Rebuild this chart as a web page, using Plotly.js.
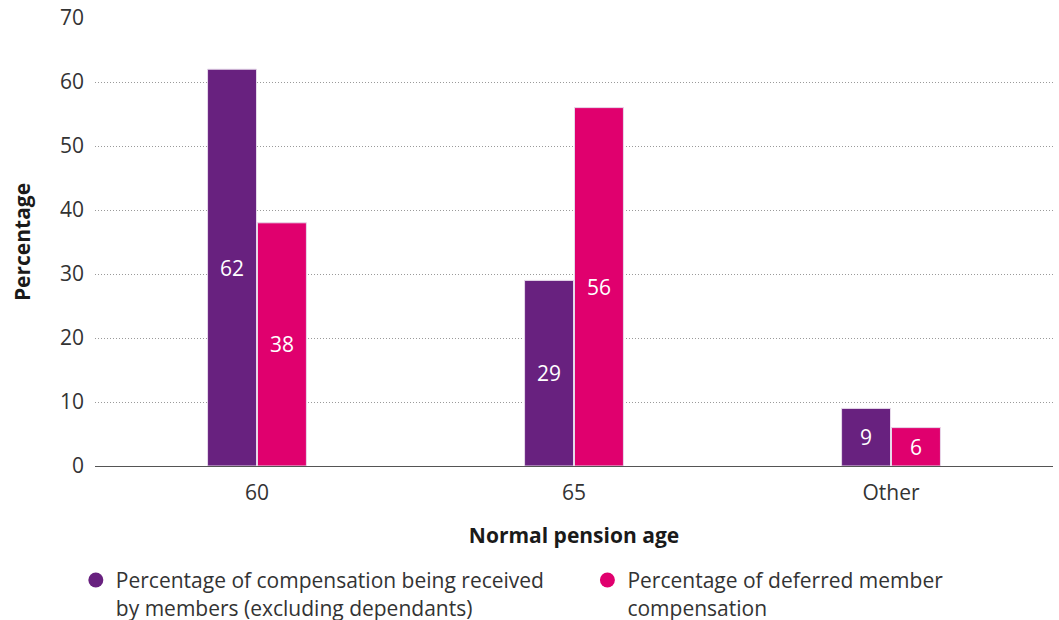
<!DOCTYPE html>
<html>
<head>
<meta charset="utf-8">
<script src="https://cdn.plot.ly/plotly-3.0.1.min.js"></script>
<style>html,body{margin:0;padding:0;background:#fff;}#chart{width:1059px;height:620px;}</style>
</head>
<body>
<div id="chart"></div>
<script>
// Normal pension age categories
const categories = ['60', '65', 'Other'];
// Share of compensation being received by members (excluding dependants)
const receivedValues = [62, 29, 9];
// Share of deferred member compensation
const deferredValues = [38, 56, 6];
const seriesNames = [
  'Percentage of compensation being received<br>by members (excluding dependants)',
  'Percentage of deferred member<br>compensation'
];
const yTicks = [0, 10, 20, 30, 40, 50, 60, 70];

const FONT = '"Open Sans", "Noto Sans", sans-serif';
const PURPLE = '#68217f';
const PINK = '#e0006e';
const TEXT_SIZE = 21;

function barTrace(values, color) {
  return {
    type: 'bar',
    x: categories,
    y: values,
    text: values.map(String),
    textposition: 'inside',
    insidetextanchor: 'middle',
    textangle: 0,
    textfont: {family: FONT, size: TEXT_SIZE, color: '#ffffff'},
    marker: {color: color, line: {color: '#e6d9ea', width: 1}},
    showlegend: false,
    hoverinfo: 'skip'
  };
}

// Legend-only entries so the keys are drawn as round dots
function legendKey(name, color, legendId) {
  return {
    type: 'scatter',
    mode: 'markers',
    name: name,
    x: [null],
    y: [null],
    marker: {symbol: 'circle', size: 15, color: color},
    showlegend: true,
    legend: legendId,
    hoverinfo: 'skip'
  };
}

const data = [
  barTrace(receivedValues, PURPLE),
  barTrace(deferredValues, PINK),
  legendKey(seriesNames[0], PURPLE, 'legend'),
  legendKey(seriesNames[1], PINK, 'legend2')
];

function legendBox(x) {
  return {
    orientation: 'h',
    xref: 'paper',
    x: x,
    xanchor: 'left',
    yref: 'container',
    y: 0.097,
    yanchor: 'top',
    valign: 'top',
    font: {family: FONT, size: TEXT_SIZE, color: '#333333'}
  };
}

const layout = {
  width: 1059,
  height: 620,
  margin: {l: 95, r: 6, t: 18, b: 154},
  paper_bgcolor: '#ffffff',
  plot_bgcolor: '#ffffff',
  font: {family: FONT, size: TEXT_SIZE, color: '#333333'},
  barmode: 'group',
  bargap: 0.685,
  bargroupgap: 0.02,
  showlegend: true,
  legend: legendBox(-0.020),
  legend2: legendBox(0.514),
  xaxis: {
    type: 'category',
    range: [-0.511, 2.511],
    tickfont: {family: FONT, size: TEXT_SIZE, color: '#333333'},
    ticks: '',
    ticklabelstandoff: 12,
    showgrid: false,
    showline: false,
    title: {text: 'Normal pension age', font: {family: FONT, size: TEXT_SIZE, color: '#1a1a1a', weight: 'bold'}, standoff: 23}
  },
  yaxis: {
    range: [0, 70],
    tickvals: yTicks,
    tickfont: {family: FONT, size: TEXT_SIZE, color: '#333333'},
    ticks: '',
    ticklabelstandoff: 10,
    showgrid: true,
    gridcolor: '#9a9a9a',
    griddash: '1px,2px',
    gridwidth: 1,
    zeroline: true,
    zerolinecolor: '#555555',
    zerolinewidth: 1,
    showline: false,
    title: {text: 'Percentage', font: {family: FONT, size: TEXT_SIZE, color: '#1a1a1a', weight: 'bold'}, standoff: 23}
  }
};

Plotly.newPlot('chart', data, layout, {displayModeBar: false, staticPlot: true});
</script>
</body>
</html>
